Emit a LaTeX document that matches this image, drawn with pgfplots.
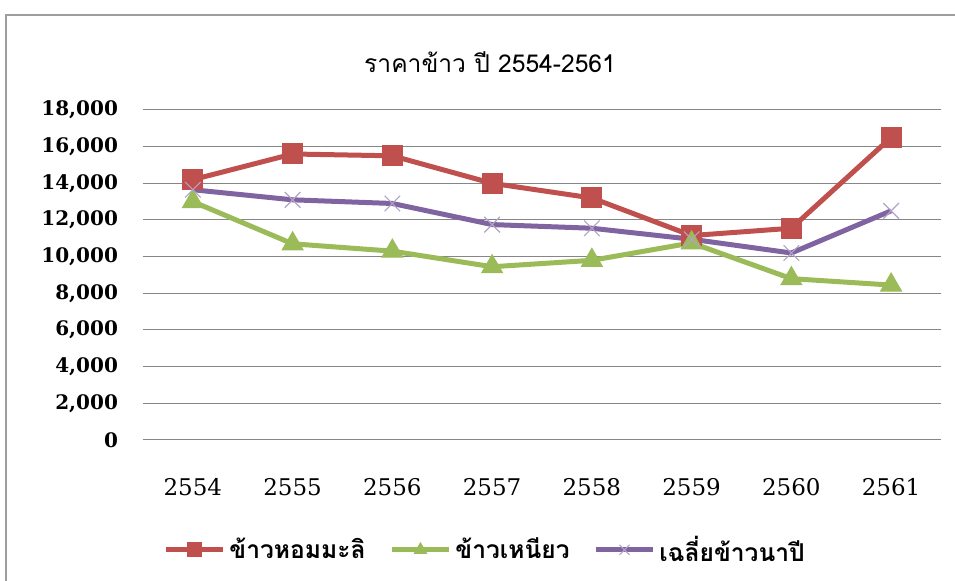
\documentclass[border=0pt]{standalone}
\usepackage{pgfplots}
\pgfplotsset{compat=1.18}
\usepackage{fontspec}
\setmainfont{DejaVu Serif}
\newfontfamily\thaifont[Script=Thai]{Loma}
\definecolor{cRed}{RGB}{192,80,77}
\definecolor{cGreen}{RGB}{155,187,89}
\definecolor{cPurple}{RGB}{128,100,162}
\definecolor{cGrid}{RGB}{134,134,134}
\begin{document}
\begin{tikzpicture}
\path[use as bounding box] (0,0) rectangle (477.5pt,290.5pt);
\draw[cGrid!80, line width=0.7pt] (3pt,-5pt) -- (3pt,283pt) -- (480pt,283pt);
\node[font=\thaifont\fontsize{12.3}{14}\selectfont] at (245pt,259.5pt) {ราคาข้าว ปี 2554-2561};
\begin{axis}[
  at={(71.5pt,70.5pt)}, anchor=south west,
  scale only axis, width=399pt, height=165pt,
  xmin=-0.5, xmax=7.5, ymin=0, ymax=18000,
  xtick={0,...,7},
  xticklabels={2554,2555,2556,2557,2558,2559,2560,2561},
  ytick={0,2000,...,18000},
  ymajorgrids, grid style={cGrid, line width=0.5pt},
  axis line style={draw=none},
  major tick length=0pt,
  scaled y ticks=false,
  typeset ticklabels with strut,
  /pgf/number format/assume math mode=true,
  yticklabel={\pgfmathprintnumber[fixed, 1000 sep={,}]{\tick}},
  yticklabel style={font=\bfseries\fontsize{10}{12}\selectfont, xshift=-9pt},
  xticklabel style={font=\fontsize{11.5}{13}\selectfont, yshift=-15pt},
  legend style={at={(0.43,-0.333)}, anchor=center, draw=none, fill=none,
    legend columns=3, font=\thaifont\bfseries\fontsize{12.3}{14}\selectfont,
    /tikz/every even column/.append style={column sep=10pt}},
  legend image code/.code={
    \draw[#1, mark size=3.5pt, mark repeat=2, mark phase=2] plot coordinates {(0cm,0cm) (0.5cm,0cm) (1cm,0cm)};},
  clip=false,
]
\addplot[cRed, line width=2.5pt, mark=square*, mark size=5pt, mark options={solid, fill=cRed, line width=0.5pt}]
  coordinates {(0,14200) (1,15600) (2,15500) (3,14000) (4,13200) (5,11150) (6,11550) (7,16500)};
\addlegendentry{ข้าวหอมมะลิ}
\addplot[cGreen, line width=2.5pt, mark=triangle*, mark size=6pt, mark options={solid, fill=cGreen, line width=0.5pt}]
  coordinates {(0,13000) (1,10700) (2,10300) (3,9450) (4,9800) (5,10750) (6,8800) (7,8450)};
\addlegendentry{ข้าวเหนียว}
\addplot[cPurple, line width=2.5pt, mark=x, mark size=5.5pt, mark options={solid, draw=cPurple!60, line width=0.6pt}]
  coordinates {(0,13650) (1,13100) (2,12900) (3,11750) (4,11550) (5,10950) (6,10200) (7,12500)};
\addlegendentry{เฉลี่ยข้าวนาปี}
\end{axis}
\end{tikzpicture}
\end{document}
